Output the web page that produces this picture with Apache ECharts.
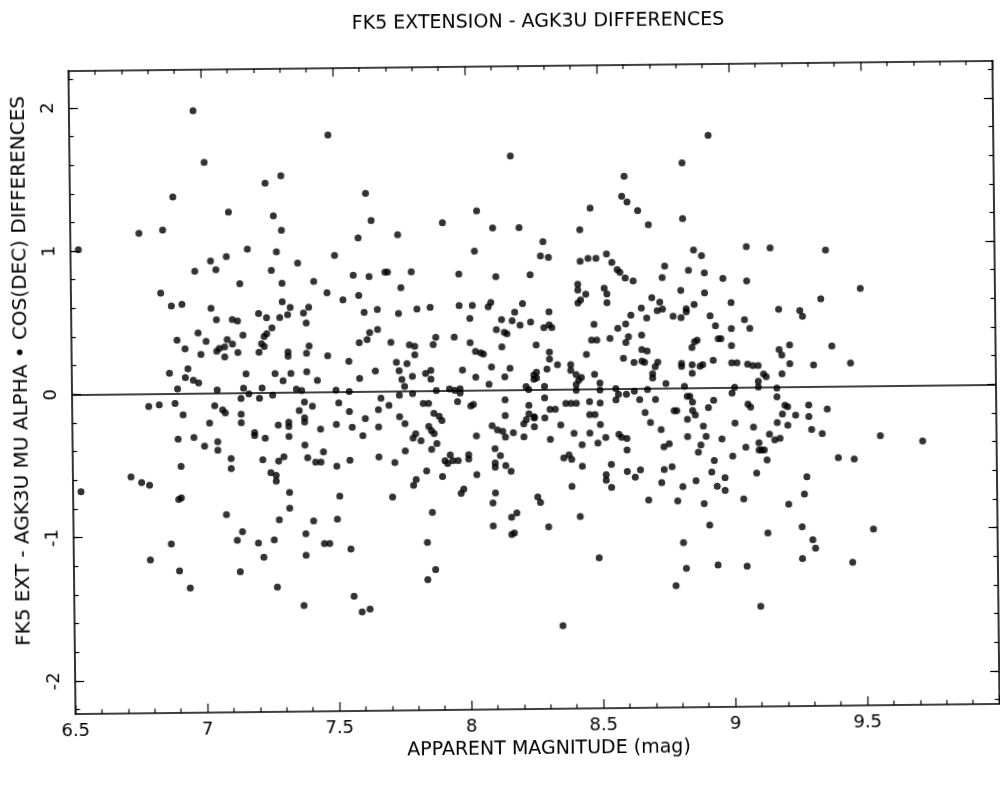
<!DOCTYPE html>
<html><head><meta charset="utf-8">
<script src="https://cdn.jsdelivr.net/npm/echarts@6/dist/echarts.min.js"></script>
<style>
html,body{margin:0;padding:0;background:#fff;}
#c{width:1000px;height:787px;transform:rotate(-0.63deg);transform-origin:535px 390px;}
</style>
</head><body><div id="c"></div>
<script>
const chartTitle = 'FK5 EXTENSION - AGK3U DIFFERENCES';
const xAxisTitle = 'APPARENT MAGNITUDE (mag)';
const yAxisTitle = 'FK5 EXT - AGK3U MU ALPHA \u2022 COS(DEC) DIFFERENCES';
const xMin = 6.5, xMax = 10, xStep = 0.5;
const yMin = -2.23, yMax = 2.26;
const yMajorTicks = [-2, -1, 0, 1, 2];
const yMinorTicks = [-2.2,-2.0,-1.8,-1.6,-1.4,-1.2,-1.0,-0.8,-0.6,-0.4,-0.2,0,0.2,0.4,0.6,0.8,1.0,1.2,1.4,1.6,1.8,2.0,2.2];

// upper left panel (bright stars, positive differences)
const magUL = [6.97,7.48,7.01,6.89,7.24,7.30,7.62,7.64,7.10,7.27,7.30,6.76,6.85,6.53,7.59,7.17,7.28,7.50,7.03,7.09,6.97,7.05,7.26,7.36,7.14,7.30,7.42,7.57,7.63,6.84,7.47,7.59,7.53,6.88,6.92,7.03,7.30,7.33,7.40,7.38,7.66,7.61,7.05,7.11,7.13,7.21,7.24,7.29,7.32,7.39,6.98,7.15,7.26,7.24,7.23,6.90,6.93,7.01,7.09,7.11,7.05,7.06,7.08,7.08,7.13,6.99,7.21,7.22,7.23,7.32,7.32,7.39,7.40,7.47,7.55,7.59,7.62,7.63,7.66,7.65,6.87,6.94,6.93,6.96,6.98,6.90,7.16,7.27,7.30,7.33,7.39,7.43,7.59];
const difUL = [1.97,1.79,1.61,1.37,1.46,1.51,1.38,1.19,1.26,1.23,1.13,1.12,1.14,1.01,1.07,1.00,0.98,0.95,0.92,0.95,0.85,0.86,0.85,0.90,0.76,0.76,0.77,0.81,0.80,0.70,0.69,0.67,0.64,0.61,0.62,0.59,0.63,0.59,0.59,0.55,0.57,0.55,0.51,0.51,0.50,0.55,0.52,0.52,0.54,0.48,0.42,0.40,0.45,0.41,0.39,0.37,0.31,0.36,0.37,0.34,0.29,0.31,0.32,0.25,0.28,0.27,0.28,0.34,0.32,0.28,0.25,0.27,0.32,0.25,0.21,0.34,0.36,0.41,0.43,0.14,0.14,0.17,0.11,0.09,0.07,0.03,0.13,0.13,0.08,0.13,0.14,0.08,0.09];

// upper middle panel
const magUM = [8.17,8.82,8.60,8.59,8.61,8.04,8.47,8.65,8.82,7.91,8.69,7.74,8.10,8.20,8.43,8.29,8.03,8.28,8.31,8.43,8.46,8.49,8.53,8.55,8.57,8.58,8.60,8.63,8.75,8.74,8.84,7.69,7.70,7.79,7.97,8.11,8.24,7.75,8.42,8.42,8.45,8.43,8.42,8.52,8.53,8.53,8.81,7.74,7.81,7.86,7.97,8.02,8.08,8.09,8.21,8.18,8.31,8.70,8.73,8.74,8.72,8.66,8.62,8.68,8.78,8.81,8.83,8.83,8.01,8.13,8.17,8.20,8.24,8.11,8.14,8.15,8.29,8.31,8.32,8.48,8.57,8.60,7.71,7.78,7.80,7.80,7.87,7.88,7.95,8.01,8.03,8.05,8.06,8.13,8.26,8.31,8.31,8.30,8.34,8.47,8.49,8.54,8.45,8.61,8.60,8.66,8.66,8.68,8.59,8.63,8.66,8.67,8.72,8.71,8.70,8.70,8.81,8.81,7.73,7.77,7.74,7.75,7.79,7.84,7.86,7.86,7.98,8.03,8.09,8.16,8.14,8.08,8.25,8.26,8.25,8.26,8.39,8.39,8.41,8.42,8.43,8.48,8.50,8.75];
const difUM = [1.63,1.57,1.48,1.34,1.30,1.25,1.26,1.24,1.18,1.17,1.14,1.09,1.13,1.13,1.11,1.03,0.97,0.93,0.92,0.89,0.91,0.91,0.94,0.88,0.83,0.81,0.77,0.75,0.85,0.77,0.82,0.83,0.83,0.83,0.81,0.79,0.80,0.72,0.73,0.69,0.66,0.62,0.60,0.70,0.66,0.60,0.68,0.54,0.57,0.58,0.59,0.59,0.58,0.61,0.60,0.54,0.54,0.63,0.60,0.55,0.54,0.56,0.51,0.49,0.50,0.49,0.53,0.55,0.50,0.49,0.48,0.45,0.47,0.42,0.40,0.39,0.43,0.45,0.43,0.45,0.42,0.45,0.34,0.32,0.31,0.25,0.32,0.37,0.37,0.33,0.27,0.26,0.25,0.30,0.31,0.26,0.21,0.14,0.17,0.34,0.34,0.35,0.24,0.36,0.32,0.37,0.27,0.26,0.21,0.18,0.19,0.18,0.18,0.15,0.10,0.07,0.17,0.15,0.20,0.19,0.14,0.08,0.10,0.12,0.14,0.08,0.14,0.09,0.16,0.15,0.09,0.04,0.10,0.12,0.07,0.08,0.17,0.13,0.10,0.06,0.08,0.10,0.04,0.03];

// upper right panel
const magUR = [8.92,8.86,8.89,9.06,9.15,9.36,8.90,8.97,9.06,8.90,9.49,8.86,9.00,8.92,8.94,9.00,9.05,9.07,9.18,9.26,9.27,9.34,8.86,8.87,8.85,8.95,8.96,9.00,8.93,8.85,8.85,8.88,8.89,9.00,9.02,9.06,9.08,9.10,9.18,9.19,9.22,9.38,9.22,9.31,9.45,9.12,9.13,9.19];
const difUR = [1.76,0.96,0.92,0.98,0.97,0.95,0.80,0.76,0.74,0.66,0.68,0.58,0.59,0.50,0.43,0.41,0.47,0.41,0.54,0.53,0.49,0.61,0.32,0.33,0.28,0.34,0.34,0.29,0.19,0.16,0.10,0.15,0.16,0.17,0.17,0.16,0.15,0.15,0.26,0.22,0.29,0.28,0.16,0.15,0.16,0.09,0.07,0.09];

// lower left panel
const magLL = [7.05,7.15,7.22,7.35,7.37,7.50,7.55,6.79,6.83,6.89,6.92,7.04,7.07,7.08,7.02,7.14,7.17,7.21,7.26,7.14,7.14,7.19,7.19,7.23,7.28,7.32,7.32,7.32,7.36,7.38,7.38,7.38,7.41,7.44,7.50,7.51,7.55,7.56,7.60,7.61,6.90,6.96,7.00,7.05,7.05,7.10,7.10,7.22,7.28,7.30,7.38,7.39,7.42,7.44,7.45,7.50,7.55,6.91,6.72,6.76,6.79,6.53,6.90,6.91,7.25,7.27,7.27,7.32,7.32,7.51,7.08,7.28,7.41,7.50,7.14,7.12,7.20,7.26,7.38,7.45,7.47,7.55,6.87,6.79,6.90,7.22,7.38,7.13,6.94,7.27,7.37,7.56,7.59,7.62];
const difLL = [0.02,0.03,0.03,0.02,0.01,0.01,0.00,-0.09,-0.08,-0.07,-0.15,-0.09,-0.12,-0.14,-0.21,-0.04,-0.01,-0.04,-0.02,-0.15,-0.21,-0.30,-0.28,-0.32,-0.23,-0.21,-0.24,-0.31,-0.13,-0.07,-0.18,-0.21,-0.10,-0.26,-0.23,-0.08,-0.14,-0.25,-0.31,-0.19,-0.32,-0.31,-0.37,-0.34,-0.40,-0.46,-0.53,-0.47,-0.48,-0.45,-0.37,-0.46,-0.49,-0.49,-0.42,-0.52,-0.48,-0.51,-0.58,-0.62,-0.64,-0.68,-0.74,-0.73,-0.56,-0.58,-0.62,-0.70,-0.81,-0.73,-0.85,-0.89,-0.90,-0.89,-0.97,-1.03,-1.05,-1.03,-0.99,-1.06,-1.06,-1.10,-1.05,-1.16,-1.24,-1.15,-1.14,-1.25,-1.36,-1.36,-1.49,-1.43,-1.54,-1.52];

// lower middle panel
const magLM = [7.76,7.74,7.79,7.88,7.93,7.95,7.97,7.97,8.22,8.23,8.29,8.41,8.41,8.50,8.56,8.57,8.56,8.60,8.63,8.68,8.82,8.83,7.67,7.70,7.66,7.66,7.66,7.74,7.76,7.72,7.76,7.71,7.83,7.85,7.87,7.89,7.90,7.85,7.86,7.87,7.79,7.80,7.82,7.88,7.86,7.84,7.80,7.79,7.90,7.91,7.92,7.93,7.94,7.96,8.00,8.00,7.96,8.01,8.02,8.03,8.03,7.97,7.98,7.86,7.84,7.87,7.84,8.09,8.11,8.13,8.14,8.17,8.14,8.14,8.10,8.12,8.10,8.10,8.14,8.16,8.10,8.09,8.09,8.16,8.18,8.16,8.17,8.21,8.21,8.22,8.23,8.25,8.25,8.23,8.25,8.29,8.29,8.31,8.33,8.31,8.35,8.26,8.27,8.30,8.35,8.37,8.39,8.41,8.40,8.43,8.36,8.38,8.39,8.43,8.39,8.42,8.46,8.50,8.46,8.48,8.50,8.46,8.49,8.52,8.54,8.52,8.52,8.54,8.49,8.57,8.58,8.60,8.60,8.60,8.63,8.65,8.65,8.67,8.69,8.71,8.73,8.74,8.76,8.74,8.77,8.73,8.68,8.78,8.79,8.79,8.78];
const difLM = [0.03,-0.03,-0.02,0.00,0.01,0.00,0.01,-0.02,0.02,0.00,0.02,0.03,-0.01,-0.01,0.00,-0.04,-0.08,-0.04,-0.02,-0.01,0.01,-0.06,-0.05,-0.10,-0.13,-0.25,-0.46,-0.18,-0.23,-0.50,-0.42,-0.74,-0.09,-0.09,-0.16,-0.18,-0.21,-0.25,-0.28,-0.30,-0.33,-0.30,-0.35,-0.37,-0.41,-0.56,-0.62,-0.66,-0.60,-0.49,-0.51,-0.45,-0.49,-0.49,-0.45,-0.48,-0.08,-0.11,-0.10,-0.32,-0.59,-0.72,-0.69,-0.85,-1.06,-1.25,-1.32,-0.25,-0.28,-0.29,-0.33,-0.30,-0.07,-0.18,-0.41,-0.46,-0.51,-0.54,-0.53,-0.57,-0.72,-0.79,-0.95,-0.89,-0.86,-1.01,-1.00,-0.33,-0.24,-0.21,-0.17,-0.19,-0.20,-0.11,-0.26,-0.06,-0.20,-0.14,-0.14,-0.35,-0.25,-0.75,-0.79,-0.96,-1.65,-0.10,-0.10,-0.10,-0.31,-0.39,-0.48,-0.46,-0.49,-0.54,-0.68,-0.89,-0.09,-0.10,-0.18,-0.18,-0.25,-0.31,-0.38,-0.34,-0.53,-0.60,-0.64,-0.69,-1.18,-0.32,-0.34,-0.35,-0.43,-0.58,-0.62,-0.57,-0.08,-0.17,-0.24,-0.08,-0.29,-0.41,-0.39,-0.57,-0.55,-0.66,-0.78,-0.16,-0.16,-0.79,-1.38];

// lower right panel (faint stars)
const magLR = [9.00,9.01,9.10,9.10,9.17,9.17,8.84,8.85,8.85,8.86,8.83,8.83,8.89,8.91,8.93,8.90,8.88,8.87,8.96,8.93,8.92,8.97,8.94,8.86,8.81,8.97,8.89,8.91,8.81,8.82,8.94,9.01,9.00,9.04,9.05,9.06,9.07,9.08,9.10,9.10,9.11,9.12,9.13,9.09,9.05,9.13,9.10,9.14,9.16,9.18,9.17,9.21,9.19,9.20,9.21,9.24,9.29,9.29,9.30,9.34,9.36,9.28,9.27,9.21,9.26,9.30,9.31,9.26,9.40,9.46,9.56,9.72,9.53,9.45];
const difLR = [-0.04,0.00,0.04,0.00,-0.01,-0.07,-0.06,-0.10,-0.16,-0.19,-0.22,-0.34,-0.27,-0.14,-0.09,-0.34,-0.40,-0.45,-0.36,-0.51,-0.59,-0.63,-0.69,-0.65,-0.69,-0.72,-0.81,-0.96,-1.08,-1.26,-1.24,-0.25,-0.48,-0.78,-0.42,-0.12,-0.14,-0.28,-0.39,-0.44,-0.44,-0.44,-0.51,-0.60,-1.25,-1.02,-1.53,-0.33,-0.37,-0.36,-0.25,-0.27,-0.19,-0.13,-0.14,-0.20,-0.13,-0.21,-0.30,-0.33,-0.16,-0.63,-0.75,-0.82,-0.98,-1.07,-1.13,-1.20,-0.50,-0.51,-0.35,-0.39,-1.00,-1.23];

const panels = [[magUL,difUL],[magUM,difUM],[magUR,difUR],[magLL,difLL],[magLM,difLM],[magLR,difLR]];
const points = [];
panels.forEach(([m, d]) => m.forEach((v, i) => points.push([v, d[i]])));

const FONT = 'DejaVu Sans';
const black = '#000';
const axisLineStyle = { color: black, width: 1.6 };

function xAxisDef(pos, withLabels) {
  return {
    type: 'value', position: pos, min: xMin, max: xMax, interval: xStep,
    axisLine: { show: true, onZero: false, lineStyle: axisLineStyle },
    axisTick: { show: true, inside: true, length: 9, lineStyle: { color: black, width: 1.2 } },
    minorTick: { show: true, splitNumber: 5, length: 4.5, lineStyle: { color: black, width: 1.2 } },
    axisLabel: withLabels ? { show: true, showMaxLabel: false, color: black, fontFamily: FONT, fontSize: 18, margin: 8,
      formatter: v => String(v) } : { show: false },
    splitLine: { show: false },
    name: withLabels ? xAxisTitle : '',
    nameLocation: 'middle', nameGap: 28,
    nameTextStyle: { color: black, fontFamily: FONT, fontSize: 19, padding: [0, 0, 0, 22] }
  };
}
function yAxisDef(pos, ticks, len, showLine, withLabels) {
  return {
    type: 'value', position: pos, min: yMin, max: yMax,
    axisLine: { show: showLine, onZero: false, lineStyle: axisLineStyle },
    axisTick: { show: true, inside: true, length: len, customValues: ticks, lineStyle: { color: black, width: 1.2 } },
    axisLabel: withLabels ? { show: true, customValues: yMajorTicks, rotate: 90, color: black, fontFamily: FONT,
      fontSize: 18, margin: 12, formatter: v => String(v) } : { show: false },
    splitLine: { show: false },
    name: withLabels ? yAxisTitle : '',
    nameLocation: 'middle', nameRotate: 90, nameGap: 40,
    nameTextStyle: { color: black, fontFamily: FONT, fontSize: 20, padding: [0, 0, 0, 44] }
  };
}

const chart = echarts.init(document.getElementById('c'), null, { renderer: 'canvas' });
chart.setOption({
  animation: false,
  backgroundColor: '#fff',
  title: { text: chartTitle, left: 537, top: 8, textAlign: 'center',
    textStyle: { color: black, fontFamily: FONT, fontSize: 19, fontWeight: 'normal' } },
  grid: { left: 72, right: 4, top: 65.5, bottom: 78, containLabel: false },
  xAxis: [xAxisDef('bottom', true), xAxisDef('top', false)],
  yAxis: [
    yAxisDef('left', yMajorTicks, 9, true, true),
    yAxisDef('left', yMinorTicks, 4.5, false, false),
    yAxisDef('right', yMajorTicks, 9, true, false),
    yAxisDef('right', yMinorTicks, 4.5, false, false)
  ],
  series: [{
    type: 'scatter', xAxisIndex: 0, yAxisIndex: 0, data: points,
    symbol: 'circle', symbolSize: 7, itemStyle: { color: black },
    markLine: { silent: true, symbol: ['none', 'none'], label: { show: false },
      lineStyle: { color: black, width: 1.6, type: 'solid' }, data: [{ yAxis: 0 }] }
  }]
});
</script>
</body></html>
